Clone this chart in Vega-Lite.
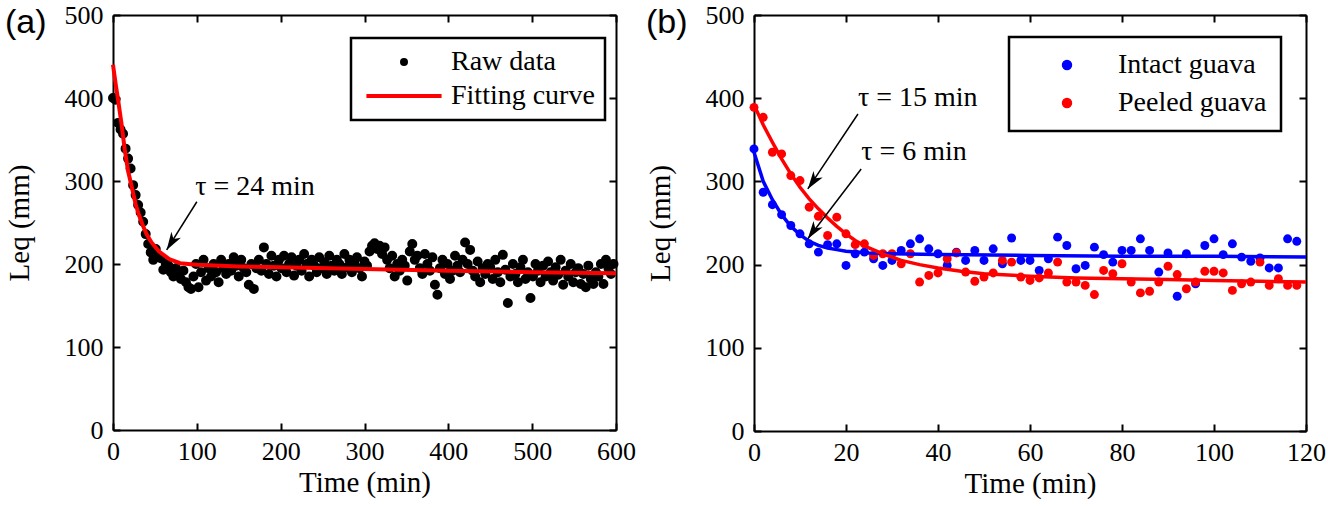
{
  "$schema": "https://vega.github.io/schema/vega-lite/v6.json",
  "background": "white",
  "padding": {"left": 5, "top": 2, "right": 5, "bottom": 5},
  "config": {
    "view": {"stroke": null},
    "axis": {
      "grid": false, "domainColor": "black", "domainWidth": 2, "tickColor": "black", "tickWidth": 2, "tickSize": 7, "ticks": false,
      "labelFont": "Liberation Serif", "labelFontSize": 26, "labelColor": "black", "labelPadding": 10, "labelFlush": false, "labelOverlap": false,
      "titleFont": "Liberation Serif", "titleFontSize": 29, "titleFontWeight": "normal", "titleColor": "black"
    },
    "legend": {"labelFont": "Liberation Serif", "labelFontSize": 28, "labelColor": "black", "labelLimit": 400, "strokeWidth": 2.5}
  },
  "datasets": {
    "rawA": [
      {"t":0,"L":400},{"t":3,"L":398},{"t":6,"L":370},{"t":9,"L":362},{"t":12,"L":357},{"t":15,"L":339},{"t":18,"L":327},{"t":21,"L":315},{"t":24,"L":295},{"t":27,"L":283},
      {"t":30,"L":271},{"t":33,"L":262},{"t":36,"L":251},{"t":39,"L":236},{"t":42,"L":224},{"t":45,"L":214},{"t":48,"L":205},{"t":51,"L":218},{"t":54,"L":210},{"t":57,"L":207},
      {"t":60,"L":193},{"t":63,"L":200},{"t":66,"L":198},{"t":69,"L":190},{"t":72,"L":185},{"t":75,"L":195},{"t":78,"L":188},{"t":81,"L":182},{"t":84,"L":192},{"t":87,"L":178},
      {"t":90,"L":172},{"t":93,"L":170},{"t":96,"L":185},{"t":99,"L":200},{"t":102,"L":172},{"t":105,"L":190},{"t":108,"L":205},{"t":111,"L":180},{"t":114,"L":195},{"t":117,"L":185},
      {"t":120,"L":200},{"t":123,"L":190},{"t":126,"L":178},{"t":129,"L":205},{"t":132,"L":195},{"t":135,"L":188},{"t":138,"L":200},{"t":141,"L":192},{"t":144,"L":208},{"t":147,"L":198},
      {"t":150,"L":185},{"t":153,"L":205},{"t":156,"L":195},{"t":159,"L":190},{"t":162,"L":175},{"t":165,"L":200},{"t":168,"L":170},{"t":171,"L":195},{"t":174,"L":205},{"t":177,"L":192},
      {"t":180,"L":220},{"t":183,"L":200},{"t":186,"L":188},{"t":189,"L":210},{"t":192,"L":198},{"t":195,"L":185},{"t":198,"L":205},{"t":201,"L":195},{"t":204,"L":210},{"t":207,"L":190},
      {"t":210,"L":200},{"t":213,"L":208},{"t":216,"L":186},{"t":219,"L":198},{"t":222,"L":205},{"t":225,"L":192},{"t":228,"L":212},{"t":231,"L":200},{"t":234,"L":185},{"t":237,"L":205},
      {"t":240,"L":198},{"t":243,"L":190},{"t":246,"L":208},{"t":249,"L":195},{"t":252,"L":202},{"t":255,"L":188},{"t":258,"L":210},{"t":261,"L":198},{"t":264,"L":192},{"t":267,"L":205},
      {"t":270,"L":200},{"t":273,"L":188},{"t":276,"L":212},{"t":279,"L":196},{"t":282,"L":205},{"t":285,"L":190},{"t":288,"L":200},{"t":291,"L":208},{"t":294,"L":195},{"t":297,"L":185},
      {"t":300,"L":203},{"t":303,"L":198},{"t":306,"L":215},{"t":309,"L":222},{"t":312,"L":225},{"t":315,"L":218},{"t":318,"L":222},{"t":321,"L":212},{"t":324,"L":220},{"t":327,"L":205},
      {"t":330,"L":195},{"t":333,"L":210},{"t":336,"L":185},{"t":339,"L":200},{"t":342,"L":192},{"t":345,"L":205},{"t":348,"L":198},{"t":351,"L":180},{"t":354,"L":215},{"t":357,"L":224},
      {"t":360,"L":205},{"t":363,"L":210},{"t":366,"L":195},{"t":369,"L":188},{"t":372,"L":212},{"t":375,"L":200},{"t":378,"L":192},{"t":381,"L":208},{"t":384,"L":175},{"t":387,"L":163},
      {"t":390,"L":195},{"t":393,"L":205},{"t":396,"L":188},{"t":399,"L":200},{"t":402,"L":182},{"t":405,"L":192},{"t":408,"L":210},{"t":411,"L":198},{"t":414,"L":190},{"t":417,"L":205},
      {"t":420,"L":226},{"t":423,"L":200},{"t":426,"L":217},{"t":429,"L":192},{"t":432,"L":185},{"t":435,"L":203},{"t":438,"L":178},{"t":441,"L":195},{"t":444,"L":188},{"t":447,"L":200},
      {"t":450,"L":196},{"t":453,"L":182},{"t":456,"L":205},{"t":459,"L":190},{"t":462,"L":178},{"t":465,"L":211},{"t":468,"L":193},{"t":471,"L":153},{"t":474,"L":185},{"t":477,"L":200},
      {"t":480,"L":188},{"t":483,"L":178},{"t":486,"L":196},{"t":489,"L":205},{"t":492,"L":182},{"t":495,"L":190},{"t":498,"L":159},{"t":501,"L":185},{"t":504,"L":200},{"t":507,"L":192},
      {"t":510,"L":178},{"t":513,"L":198},{"t":516,"L":185},{"t":519,"L":203},{"t":522,"L":190},{"t":525,"L":180},{"t":528,"L":196},{"t":531,"L":187},{"t":534,"L":205},{"t":537,"L":175},
      {"t":540,"L":192},{"t":543,"L":185},{"t":546,"L":200},{"t":549,"L":178},{"t":552,"L":190},{"t":555,"L":195},{"t":558,"L":176},{"t":561,"L":188},{"t":564,"L":172},{"t":567,"L":198},
      {"t":570,"L":182},{"t":573,"L":176},{"t":576,"L":190},{"t":579,"L":185},{"t":582,"L":200},{"t":585,"L":176},{"t":588,"L":205},{"t":591,"L":195},{"t":594,"L":188},{"t":597,"L":200}
    ],
    "fitA": [
      {"t":0,"L":440},{"t":3,"L":418},{"t":6,"L":398},{"t":10,"L":370},{"t":14,"L":338},{"t":18,"L":312},{"t":23,"L":290},{"t":27,"L":272},{"t":31,"L":259},{"t":35,"L":248},
      {"t":40,"L":236},{"t":46,"L":226},{"t":55,"L":215},{"t":67,"L":206},{"t":80,"L":201},{"t":100,"L":199},{"t":150,"L":197},{"t":200,"L":196},{"t":300,"L":194},{"t":400,"L":192},
      {"t":500,"L":190},{"t":600,"L":189}
    ],
    "ptsB": [
      {"s":"Intact guava","t":0,"L":339},{"s":"Intact guava","t":2,"L":287},{"s":"Intact guava","t":4,"L":272},{"s":"Intact guava","t":6,"L":260},{"s":"Intact guava","t":8,"L":247},{"s":"Intact guava","t":10,"L":237},{"s":"Intact guava","t":12,"L":225},{"s":"Intact guava","t":14,"L":215},{"s":"Intact guava","t":16,"L":224},{"s":"Intact guava","t":18,"L":225},
      {"s":"Intact guava","t":20,"L":199},{"s":"Intact guava","t":22,"L":213},{"s":"Intact guava","t":24,"L":215},{"s":"Intact guava","t":26,"L":207},{"s":"Intact guava","t":28,"L":199},{"s":"Intact guava","t":30,"L":205},{"s":"Intact guava","t":32,"L":217},{"s":"Intact guava","t":34,"L":225},{"s":"Intact guava","t":36,"L":231},{"s":"Intact guava","t":38,"L":219},
      {"s":"Intact guava","t":40,"L":213},{"s":"Intact guava","t":42,"L":199},{"s":"Intact guava","t":44,"L":215},{"s":"Intact guava","t":46,"L":205},{"s":"Intact guava","t":48,"L":217},{"s":"Intact guava","t":50,"L":205},{"s":"Intact guava","t":52,"L":219},{"s":"Intact guava","t":54,"L":201},{"s":"Intact guava","t":56,"L":232},{"s":"Intact guava","t":58,"L":205},
      {"s":"Intact guava","t":60,"L":205},{"s":"Intact guava","t":62,"L":193},{"s":"Intact guava","t":64,"L":207},{"s":"Intact guava","t":66,"L":233},{"s":"Intact guava","t":68,"L":223},{"s":"Intact guava","t":70,"L":195},{"s":"Intact guava","t":72,"L":199},{"s":"Intact guava","t":74,"L":221},{"s":"Intact guava","t":76,"L":212},{"s":"Intact guava","t":78,"L":203},
      {"s":"Intact guava","t":80,"L":217},{"s":"Intact guava","t":82,"L":217},{"s":"Intact guava","t":84,"L":231},{"s":"Intact guava","t":86,"L":217},{"s":"Intact guava","t":88,"L":191},{"s":"Intact guava","t":90,"L":214},{"s":"Intact guava","t":92,"L":162},{"s":"Intact guava","t":94,"L":213},{"s":"Intact guava","t":96,"L":177},{"s":"Intact guava","t":98,"L":223},
      {"s":"Intact guava","t":100,"L":231},{"s":"Intact guava","t":102,"L":212},{"s":"Intact guava","t":104,"L":225},{"s":"Intact guava","t":106,"L":209},{"s":"Intact guava","t":108,"L":204},{"s":"Intact guava","t":110,"L":208},{"s":"Intact guava","t":112,"L":196},{"s":"Intact guava","t":114,"L":196},{"s":"Intact guava","t":116,"L":231},{"s":"Intact guava","t":118,"L":228},
      {"s":"Peeled guava","t":0,"L":389},{"s":"Peeled guava","t":2,"L":377},{"s":"Peeled guava","t":4,"L":335},{"s":"Peeled guava","t":6,"L":333},{"s":"Peeled guava","t":8,"L":307},{"s":"Peeled guava","t":10,"L":301},{"s":"Peeled guava","t":12,"L":269},{"s":"Peeled guava","t":14,"L":258},{"s":"Peeled guava","t":16,"L":235},{"s":"Peeled guava","t":18,"L":257},
      {"s":"Peeled guava","t":20,"L":237},{"s":"Peeled guava","t":22,"L":224},{"s":"Peeled guava","t":24,"L":225},{"s":"Peeled guava","t":26,"L":211},{"s":"Peeled guava","t":28,"L":213},{"s":"Peeled guava","t":30,"L":213},{"s":"Peeled guava","t":32,"L":201},{"s":"Peeled guava","t":34,"L":213},{"s":"Peeled guava","t":36,"L":179},{"s":"Peeled guava","t":38,"L":187},
      {"s":"Peeled guava","t":40,"L":190},{"s":"Peeled guava","t":42,"L":207},{"s":"Peeled guava","t":44,"L":214},{"s":"Peeled guava","t":46,"L":191},{"s":"Peeled guava","t":48,"L":180},{"s":"Peeled guava","t":50,"L":185},{"s":"Peeled guava","t":52,"L":190},{"s":"Peeled guava","t":54,"L":205},{"s":"Peeled guava","t":56,"L":203},{"s":"Peeled guava","t":58,"L":185},
      {"s":"Peeled guava","t":60,"L":181},{"s":"Peeled guava","t":62,"L":184},{"s":"Peeled guava","t":64,"L":190},{"s":"Peeled guava","t":66,"L":203},{"s":"Peeled guava","t":68,"L":179},{"s":"Peeled guava","t":70,"L":179},{"s":"Peeled guava","t":72,"L":175},{"s":"Peeled guava","t":74,"L":164},{"s":"Peeled guava","t":76,"L":193},{"s":"Peeled guava","t":78,"L":189},
      {"s":"Peeled guava","t":80,"L":201},{"s":"Peeled guava","t":82,"L":179},{"s":"Peeled guava","t":84,"L":166},{"s":"Peeled guava","t":86,"L":168},{"s":"Peeled guava","t":88,"L":179},{"s":"Peeled guava","t":90,"L":198},{"s":"Peeled guava","t":92,"L":188},{"s":"Peeled guava","t":94,"L":171},{"s":"Peeled guava","t":96,"L":179},{"s":"Peeled guava","t":98,"L":192},
      {"s":"Peeled guava","t":100,"L":192},{"s":"Peeled guava","t":102,"L":190},{"s":"Peeled guava","t":104,"L":169},{"s":"Peeled guava","t":106,"L":177},{"s":"Peeled guava","t":108,"L":179},{"s":"Peeled guava","t":110,"L":203},{"s":"Peeled guava","t":112,"L":175},{"s":"Peeled guava","t":114,"L":183},{"s":"Peeled guava","t":116,"L":175},{"s":"Peeled guava","t":118,"L":175}
    ],
    "fitB": [
      {"s":"Intact guava","t":0,"L":335},{"s":"Intact guava","t":2,"L":300},{"s":"Intact guava","t":4,"L":278},{"s":"Intact guava","t":6,"L":260},{"s":"Intact guava","t":8,"L":246},{"s":"Intact guava","t":10,"L":236},{"s":"Intact guava","t":12,"L":228},{"s":"Intact guava","t":14,"L":223},{"s":"Intact guava","t":16,"L":220},{"s":"Intact guava","t":18,"L":218},
      {"s":"Intact guava","t":20,"L":216},{"s":"Intact guava","t":25,"L":214},{"s":"Intact guava","t":30,"L":213},{"s":"Intact guava","t":40,"L":212},{"s":"Intact guava","t":60,"L":211},{"s":"Intact guava","t":80,"L":210},{"s":"Intact guava","t":100,"L":210},{"s":"Intact guava","t":120,"L":209},
      {"s":"Peeled guava","t":0,"L":392},{"s":"Peeled guava","t":2,"L":368},{"s":"Peeled guava","t":4,"L":347},{"s":"Peeled guava","t":6,"L":327},{"s":"Peeled guava","t":8,"L":309},{"s":"Peeled guava","t":10,"L":293},{"s":"Peeled guava","t":12,"L":279},{"s":"Peeled guava","t":14,"L":267},{"s":"Peeled guava","t":16,"L":256},{"s":"Peeled guava","t":18,"L":246},
      {"s":"Peeled guava","t":20,"L":237},{"s":"Peeled guava","t":22,"L":229},{"s":"Peeled guava","t":25,"L":220},{"s":"Peeled guava","t":28,"L":213},{"s":"Peeled guava","t":32,"L":205},{"s":"Peeled guava","t":36,"L":200},{"s":"Peeled guava","t":40,"L":196},{"s":"Peeled guava","t":45,"L":192},{"s":"Peeled guava","t":50,"L":189},{"s":"Peeled guava","t":60,"L":186},
      {"s":"Peeled guava","t":70,"L":184},{"s":"Peeled guava","t":80,"L":183},{"s":"Peeled guava","t":90,"L":182},{"s":"Peeled guava","t":100,"L":181},{"s":"Peeled guava","t":110,"L":180},{"s":"Peeled guava","t":120,"L":179}
    ],
    "arrowsA": [{"t":100,"L":275,"t2":64,"L2":217}],
    "labelsA": [{"t":98,"L":293,"text":"τ = 24 min"}],
    "arrowsB": [
      {"t":22.6,"L":381,"t2":11.7,"L2":291},
      {"t":23.3,"L":315,"t2":11.7,"L2":231}
    ],
    "labelsB": [
      {"t":22.6,"L":400,"text":"τ = 15 min"},
      {"t":23.3,"L":335,"text":"τ = 6 min"}
    ]
  },
  "hconcat": [
    {
      "width": 503, "height": 415,
      "title": {"text": "(a)", "anchor": "start", "frame": "bounds", "font": "Liberation Sans", "fontSize": 34, "fontWeight": "normal", "color": "black", "offset": -38},
      "resolve": {"axis": {"x": "independent", "y": "independent"}},
      "layer": [
        {
          "data": {"name": "rawA"},
          "transform": [{"calculate": "'Raw data'", "as": "s"}],
          "mark": {"type": "point", "filled": false, "size": 100, "strokeWidth": 5, "opacity": 1},
          "encoding": {
            "x": {"field": "t", "type": "quantitative", "scale": {"domain": [0, 600], "nice": false}, "axis": {"title": "Time (min)", "labelPadding": 8, "titlePadding": 4, "values": [0,100,200,300,400,500,600]}},
            "y": {"field": "L", "type": "quantitative", "scale": {"domain": [0, 500], "nice": false}, "axis": {"title": "Leq (mm)", "titlePadding": 30, "values": [0,100,200,300,400,500]}},
            "shape": {"field": "s", "type": "nominal",
              "scale": {"domain": ["Raw data", "Fitting curve"], "range": ["M-0.5,0A0.5,0.5,0,1,0,0.5,0A0.5,0.5,0,1,0,-0.5,0Z", "M-9.4,0L9.4,0"]},
              "legend": {"title": null}},
            "color": {"field": "s", "type": "nominal",
              "scale": {"domain": ["Raw data", "Fitting curve"], "range": ["black", "red"]},
              "legend": {"title": null, "orient": "none", "legendX": 238, "legendY": 23, "strokeColor": "black", "fillColor": "white",
                "padding": 10, "rowPadding": 6, "symbolOffset": 29, "labelOffset": 33, "symbolSize": 64, "symbolStrokeWidth": 4, "symbolOpacity": 1}}
          }
        },
        {
          "data": {"name": "fitA"},
          "transform": [{"calculate": "'Fitting curve'", "as": "s"}],
          "mark": {"type": "line", "strokeWidth": 4},
          "encoding": {
            "x": {"field": "t", "type": "quantitative", "axis": {"orient": "top", "labels": false, "title": null}},
            "y": {"field": "L", "type": "quantitative", "axis": {"orient": "right", "labels": false, "title": null}},
            "color": {"field": "s", "type": "nominal", "legend": null}
          }
        },
        {
          "data": {"name": "arrowsA"},
          "mark": {"type": "rule", "color": "black", "strokeWidth": 1.5},
          "encoding": {
            "x": {"field": "t", "type": "quantitative", "axis": {"orient": "bottom", "labels": false, "title": null, "domain": false, "ticks": true, "offset": -7, "values": [0,100,200,300,400,500,600]}},
            "y": {"field": "L", "type": "quantitative", "axis": {"orient": "left", "labels": false, "title": null, "domain": false, "ticks": true, "offset": -7, "values": [0,100,200,300,400,500]}},
            "x2": {"field": "t2"}, "y2": {"field": "L2"}
          }
        },
        {
          "data": {"name": "arrowsA"},
          "mark": {"type": "point", "filled": true, "shape": "M0,0 L0.5,1.6 L0,1.15 L-0.5,1.6 Z", "size": 500, "color": "black", "opacity": 1, "angle": 212},
          "encoding": {
            "x": {"field": "t2", "type": "quantitative", "axis": {"orient": "top", "labels": false, "title": null, "domain": false, "ticks": true, "offset": -7, "values": [0,100,200,300,400,500,600]}},
            "y": {"field": "L2", "type": "quantitative", "axis": {"orient": "right", "labels": false, "title": null, "domain": false, "ticks": true, "offset": -7, "values": [0,100,200,300,400,500]}}
          }
        },
        {
          "data": {"name": "labelsA"},
          "mark": {"type": "text", "align": "left", "baseline": "middle", "font": "Liberation Serif", "fontSize": 28, "color": "black"},
          "encoding": {
            "x": {"field": "t", "type": "quantitative", "axis": null}, "y": {"field": "L", "type": "quantitative", "axis": null},
            "text": {"field": "text"}
          }
        }
      ]
    },
    {
      "width": 552, "height": 416,
      "title": {"text": "(b)", "anchor": "start", "frame": "bounds", "font": "Liberation Sans", "fontSize": 34, "fontWeight": "normal", "color": "black", "offset": -38},
      "resolve": {"axis": {"x": "independent", "y": "independent"}},
      "layer": [
        {
          "data": {"name": "ptsB"},
          "mark": {"type": "circle", "size": 80, "opacity": 1},
          "encoding": {
            "x": {"field": "t", "type": "quantitative", "scale": {"domain": [0, 120], "nice": false}, "axis": {"title": "Time (min)", "labelPadding": 8, "titlePadding": 4, "values": [0,20,40,60,80,100,120]}},
            "y": {"field": "L", "type": "quantitative", "scale": {"domain": [0, 500], "nice": false}, "axis": {"title": "Leq (mm)", "titlePadding": 30, "values": [0,100,200,300,400,500]}},
            "color": {"field": "s", "type": "nominal",
              "scale": {"domain": ["Intact guava", "Peeled guava"], "range": ["#0000ff", "#ff0000"]},
              "legend": {"title": null, "orient": "none", "legendX": 255, "legendY": 22, "strokeColor": "black", "fillColor": "white",
                "padding": 14, "rowPadding": 10, "symbolOffset": 30, "labelOffset": 37, "symbolSize": 80, "symbolType": "circle", "symbolOpacity": 1}}
          }
        },
        {
          "data": {"name": "fitB"},
          "mark": {"type": "line", "strokeWidth": 3.5},
          "encoding": {
            "x": {"field": "t", "type": "quantitative", "axis": {"orient": "top", "labels": false, "title": null}},
            "y": {"field": "L", "type": "quantitative", "axis": {"orient": "right", "labels": false, "title": null}},
            "color": {"field": "s", "type": "nominal", "legend": null}
          }
        },
        {
          "data": {"name": "arrowsB"},
          "mark": {"type": "rule", "color": "black", "strokeWidth": 1.5},
          "encoding": {
            "x": {"field": "t", "type": "quantitative", "axis": {"orient": "bottom", "labels": false, "title": null, "domain": false, "ticks": true, "offset": -7, "values": [0,20,40,60,80,100,120]}},
            "y": {"field": "L", "type": "quantitative", "axis": {"orient": "left", "labels": false, "title": null, "domain": false, "ticks": true, "offset": -7, "values": [0,100,200,300,400,500]}},
            "x2": {"field": "t2"}, "y2": {"field": "L2"}
          }
        },
        {
          "data": {"name": "arrowsB"},
          "mark": {"type": "point", "filled": true, "shape": "M0,0 L0.5,1.6 L0,1.15 L-0.5,1.6 Z", "size": 500, "color": "black", "opacity": 1, "angle": 215},
          "encoding": {
            "x": {"field": "t2", "type": "quantitative", "axis": {"orient": "top", "labels": false, "title": null, "domain": false, "ticks": true, "offset": -7, "values": [0,20,40,60,80,100,120]}},
            "y": {"field": "L2", "type": "quantitative", "axis": {"orient": "right", "labels": false, "title": null, "domain": false, "ticks": true, "offset": -7, "values": [0,100,200,300,400,500]}}
          }
        },
        {
          "data": {"name": "labelsB"},
          "mark": {"type": "text", "align": "left", "baseline": "middle", "font": "Liberation Serif", "fontSize": 28, "color": "black"},
          "encoding": {
            "x": {"field": "t", "type": "quantitative", "axis": null}, "y": {"field": "L", "type": "quantitative", "axis": null},
            "text": {"field": "text"}
          }
        }
      ]
    }
  ],
  "spacing": 10,
  "resolve": {"scale": {"color": "independent", "shape": "independent"}, "legend": {"color": "independent", "shape": "independent"}}
}
